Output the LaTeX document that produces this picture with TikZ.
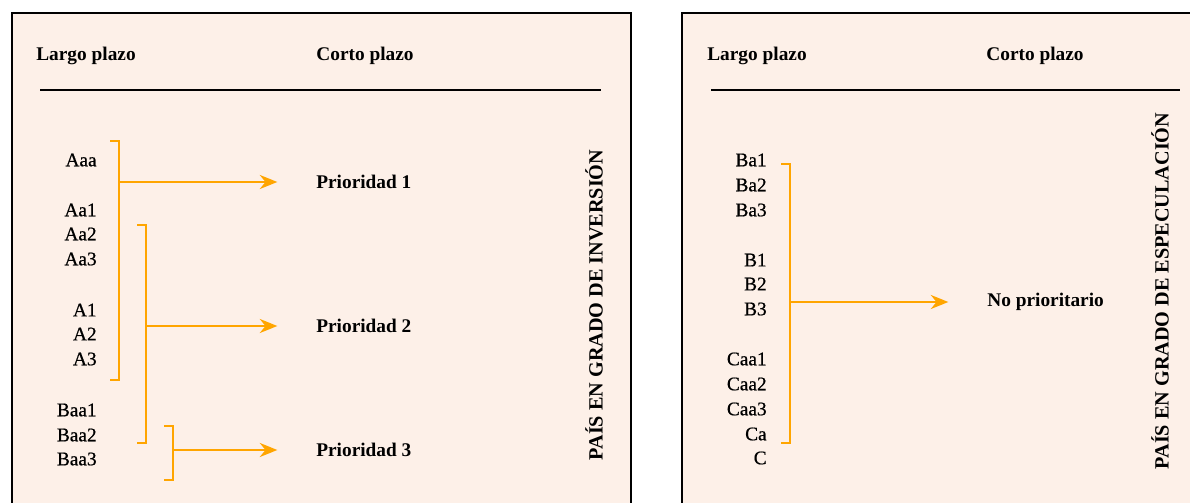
\documentclass[tikz,border=0pt]{standalone}
\usepackage{fontspec}
\setmainfont{Liberation Serif}
\newfontfamily\ratingfont[FakeBold=0.6]{Liberation Serif}
\usetikzlibrary{arrows.meta}
\definecolor{panelbg}{RGB}{253,240,232}
\definecolor{bracketor}{RGB}{255,165,0}
\begin{document}
\begin{tikzpicture}[x=0.02cm,y=-0.02cm]
		\tikzstyle{panel}=[draw=black,line width=1.4pt,fill=panelbg]
		\tikzstyle{head}=[font=\fontsize{11}{13}\selectfont\bfseries,inner sep=0pt]
		\tikzstyle{rating}=[anchor=east,font=\fontsize{11}{13}\ratingfont,inner sep=0pt]
		\tikzstyle{prio}=[anchor=west,font=\fontsize{11}{13}\selectfont\bfseries,inner sep=0pt]
		\tikzstyle{side}=[rotate=90,font=\fontsize{11.5}{13}\selectfont\bfseries,inner sep=0pt]
		\tikzstyle{bracket}=[draw=bracketor,line width=1.1pt]
		\tikzstyle{arrow}=[bracket,-{Stealth[length=10pt,width=8pt]},shorten >=22pt]
		\useasboundingbox (0,0) rectangle (1190,503);
		\clip (0,0) rectangle (1190,503);
		% panels
		\draw[panel] (12,13) rectangle (631,530);
		\draw[panel] (682,13) rectangle (1210,530);
		% left panel
		\node[head] (h_1) at (86,56) {Largo plazo};
		\node[head] (h_2) at (365,56) {Corto plazo};
		\draw[line width=1.4pt] (40,90) -- (601,90);
		\node[rating] (r_1) at (97,160) {Aaa};
		\node[rating] (r_2) at (97,210) {Aa1};
		\node[rating] (r_3) at (97,234) {Aa2};
		\node[rating] (r_4) at (97,259) {Aa3};
		\node[rating] (r_5) at (97,310) {A1};
		\node[rating] (r_6) at (97,334) {A2};
		\node[rating] (r_7) at (97,359) {A3};
		\node[rating] (r_8) at (97,410) {Baa1};
		\node[rating] (r_9) at (97,435) {Baa2};
		\node[rating] (r_10) at (97,459) {Baa3};
		\node[prio] (p_1) at (316,182) {Prioridad 1};
		\node[prio] (p_2) at (316,326) {Prioridad 2};
		\node[prio] (p_3) at (316,450) {Prioridad 3};
		\node[side] (s_1) at (594,305) {PAÍS EN GRADO DE INVERSIÓN};
		\coordinate (b_1) at (119,182);
		\coordinate (b_2) at (146,326);
		\coordinate (b_3) at (173,450);
		\draw[bracket] (110,141) -- (119,141) -- (119,380) -- (110,380);
		\draw[bracket] (137,225) -- (146,225) -- (146,443) -- (137,443);
		\draw[bracket] (164,426) -- (173,426) -- (173,480) -- (164,480);
		\draw[arrow] (b_1) -- (p_1.west);
		\draw[arrow] (b_2) -- (p_2.west);
		\draw[arrow] (b_3) -- (p_3.west);
		% right panel
		\node[head] (h_3) at (757,56) {Largo plazo};
		\node[head] (h_4) at (1035,56) {Corto plazo};
		\draw[line width=1.4pt] (711,90) -- (1180,90);
		\node[rating] (q_1) at (767,160) {Ba1};
		\node[rating] (q_2) at (767,185) {Ba2};
		\node[rating] (q_3) at (767,210) {Ba3};
		\node[rating] (q_4) at (767,260) {B1};
		\node[rating] (q_5) at (767,284) {B2};
		\node[rating] (q_6) at (767,309) {B3};
		\node[rating] (q_7) at (767,359) {Caa1};
		\node[rating] (q_8) at (767,384) {Caa2};
		\node[rating] (q_9) at (767,409) {Caa3};
		\node[rating] (q_10) at (767,434) {Ca};
		\node[rating] (q_11) at (767,458) {C};
		\node[prio] (p_4) at (987,302) {No prioritario};
		\node[side] (s_2) at (1160,291) {PAÍS EN GRADO DE ESPECULACIÓN};
		\coordinate (b_4) at (790,302);
		\draw[bracket] (781,164) -- (790,164) -- (790,443) -- (781,443);
		\draw[arrow] (b_4) -- (p_4.west);
	\end{tikzpicture}
\end{document}
